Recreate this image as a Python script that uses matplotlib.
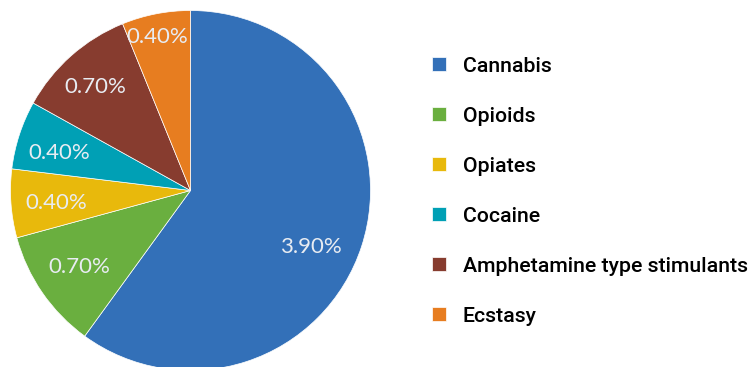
import numpy as np
import matplotlib.pyplot as plt

# drug use prevalence, share of each substance
substances = ["Cannabis", "Opioids", "Opiates", "Cocaine",
              "Amphetamine type stimulants", "Ecstasy"]
prevalence = [3.9, 0.7, 0.4, 0.4, 0.7, 0.4]
colors = ["#3370B8", "#6AAF3F", "#E8B90C", "#00A0B5", "#873C2F", "#E77D20"]

fig = plt.figure(figsize=(7.51, 3.67), dpi=100)
# pie axes in pixel terms: centre (190.5, 190.5) from top, radius 180
W, H = 751, 367
r_px = 180
ax = fig.add_axes([(190.5 - r_px) / W, (H - 190.5 - r_px) / H,
                   2 * r_px / W, 2 * r_px / H])

wedges, _ = ax.pie(prevalence, colors=colors, startangle=90, counterclock=False,
                   radius=1.0, wedgeprops=dict(edgecolor="white", linewidth=0.5))
ax.set_xlim(-1, 1)
ax.set_ylim(-1, 1)
ax.set_aspect("equal")
ax.axis("off")

# value labels inside the wedges
label_r = [0.74, 0.75, 0.75, 0.76, 0.78, 0.87]
label_shift = [-7, 0, 1, 2, 1, 1]  # degrees
for w, v, lr, sh in zip(wedges, prevalence, label_r, label_shift):
    ang = np.deg2rad((w.theta1 + w.theta2) / 2 + sh)
    ax.text(lr * np.cos(ang), lr * np.sin(ang), f"{v:.2f}%",
            ha="center", va="center", color="#E8ECF2",
            fontsize=16, fontfamily="Lato", fontweight="normal")

fig.legend(wedges, substances, loc="upper left",
           bbox_to_anchor=(423 / W, 1 - 48 / H), frameon=False,
           prop=dict(family="Roboto", weight="medium", size=15.3),
           handlelength=0.66, handleheight=0.66, handletextpad=0.8,
           labelspacing=1.46, borderaxespad=0)

fig.savefig("out.png", dpi=100)
